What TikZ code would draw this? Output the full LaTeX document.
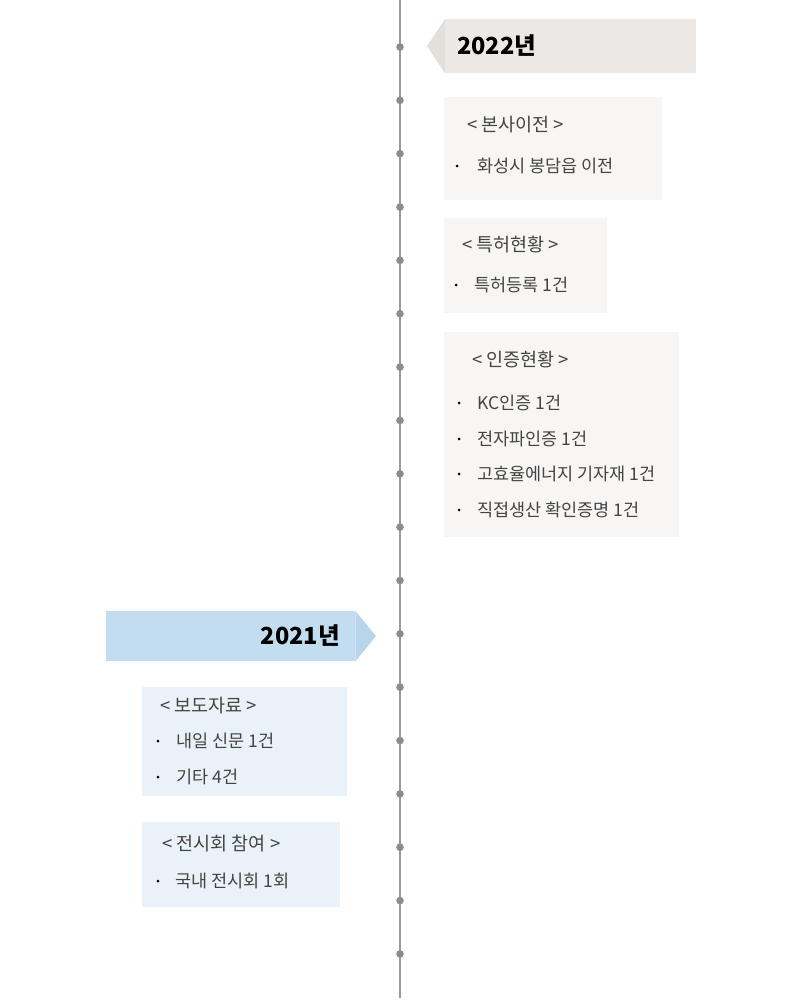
\documentclass[tikz,border=0pt]{standalone}
\usepackage{fontspec}
\newfontfamily\kr{Noto Sans CJK KR}
\usetikzlibrary{positioning}

\definecolor{linegray}{HTML}{9A9A9A}
\definecolor{dotgray}{HTML}{8C8C8C}
\definecolor{beigebar}{HTML}{ECE8E5}
\definecolor{beigetip}{HTML}{E3E0DC}
\definecolor{beigebox}{HTML}{F7F6F5}
\definecolor{bluebar}{HTML}{C2DDF0}
\definecolor{bluetip}{HTML}{B9D5EA}
\definecolor{bluebox}{HTML}{EAF2F9}
\definecolor{itemtext}{HTML}{444444}

\tikzset{
  bar/.style={inner sep=0pt, anchor=north west, minimum height=#1},
  panel/.style={inner sep=0pt, anchor=north west},
  yeartext/.style={font=\kr\bfseries\fontsize{23.5}{28}\selectfont, text=black, inner sep=0pt},
  titletext/.style={font=\kr\fontsize{18.5}{22}\selectfont, text=itemtext, inner sep=0pt, anchor=west},
  itemtext/.style={font=\kr\fontsize{17.5}{21}\selectfont, text=itemtext, inner sep=0pt, anchor=west},
}

\begin{document}
\begin{tikzpicture}[x=1pt,y=-1pt]
  \useasboundingbox (0,0) rectangle (800,1000);

  % timeline
  \coordinate (top) at (400,0);
  \coordinate (bottom) at (400,998);
  \draw[linegray, line width=1.3pt] (top) -- (bottom);
  \foreach \i in {0,...,17}
    \fill[dotgray] (400,{47+53.35*\i}) circle (3.8pt);

  % 2022
  \node[bar=54pt, fill=beigebar, minimum width=251pt] (bar22) at (445,19) {};
  \coordinate (tip22) at (427,46);
  \fill[beigetip] (bar22.north west) -- (tip22) -- (bar22.south west) -- cycle;
  \node[yeartext, anchor=west] (year22) at (457,46) {2022년};

  \node[panel, fill=beigebox, minimum width=218pt, minimum height=103pt] (move) at (444,97) {};
  \node[titletext] (movetitle) at (467,125) {< 본사이전 >};
  \fill[itemtext] (457,166) circle (1.5pt);
  \node[itemtext] (move1) at (477,166) {화성시 봉담읍 이전};

  \node[panel, fill=beigebox, minimum width=163pt, minimum height=95pt] (patent) at (444,218) {};
  \node[titletext] (patenttitle) at (462,245) {< 특허현황 >};
  \fill[itemtext] (456,285) circle (1.5pt);
  \node[itemtext] (patent1) at (474,285) {특허등록 1건};

  \node[panel, fill=beigebox, minimum width=235pt, minimum height=205pt] (cert) at (444,332) {};
  \node[titletext] (certtitle) at (472,359) {< 인증현황 >};
  \foreach \y/\t [count=\n] in {403/KC인증 1건, 439/전자파인증 1건, 474/고효율에너지 기자재 1건, 510/직접생산 확인증명 1건} {
    \fill[itemtext] (459,\y) circle (1.5pt);
    \node[itemtext] (cert\n) at (477,\y) {\t};
  }

  % 2021
  \node[bar=50pt, fill=bluebar, minimum width=249pt] (bar21) at (106,611) {};
  \coordinate (tip21) at (376,636);
  \fill[bluetip] (bar21.north east) -- (tip21) -- (bar21.south east) -- cycle;
  \node[yeartext, anchor=east] (year21) at (340,636) {2021년};

  \node[panel, fill=bluebox, minimum width=205pt, minimum height=109pt] (press) at (142,687) {};
  \node[titletext] (presstitle) at (160,706) {< 보도자료 >};
  \fill[itemtext] (158,741) circle (1.5pt);
  \node[itemtext] (press1) at (176,741) {내일 신문 1건};
  \fill[itemtext] (158,777) circle (1.5pt);
  \node[itemtext] (press2) at (176,777) {기타 4건};

  \node[panel, fill=bluebox, minimum width=198pt, minimum height=85pt] (expo) at (142,822) {};
  \node[titletext] (expotitle) at (162,844) {< 전시회 참여 >};
  \fill[itemtext] (158,881) circle (1.5pt);
  \node[itemtext] (expo1) at (175,881) {국내 전시회 1회};
\end{tikzpicture}
\end{document}
